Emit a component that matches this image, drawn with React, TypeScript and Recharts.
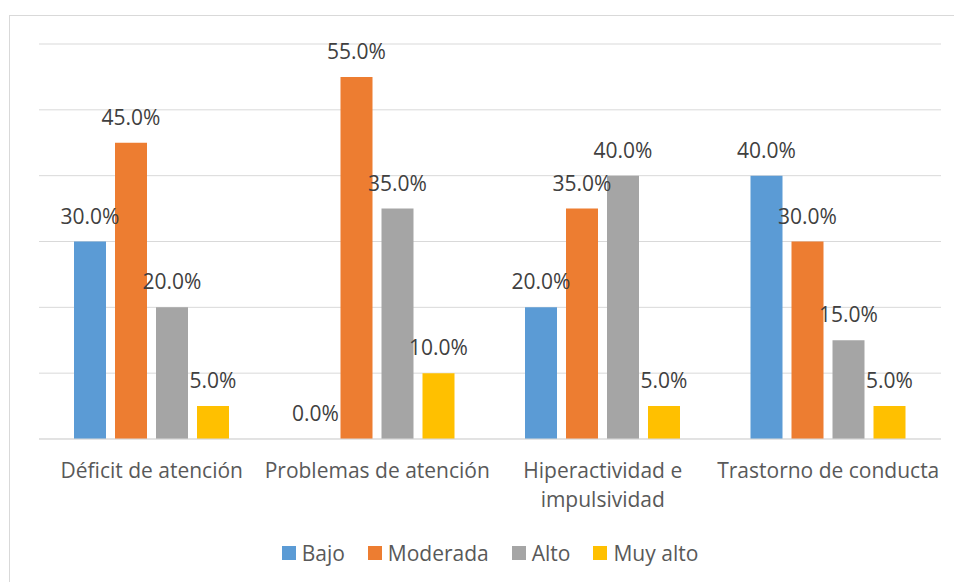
import { BarChart, Bar, XAxis, YAxis, CartesianGrid, Legend, LabelList } from "recharts";

const categories = [
  "Déficit de atención",
  "Problemas de atención",
  "Hiperactividad e\nimpulsividad",
  "Trastorno de conducta",
];
const bajo = [30, 0, 20, 40];
const moderada = [45, 55, 35, 30];
const alto = [20, 35, 40, 15];
const muyAlto = [5, 10, 5, 5];
const yTicks = [0, 10, 20, 30, 40, 50, 60];

const data = categories.map((category, i) => ({
  category,
  bajo: bajo[i],
  moderada: moderada[i],
  alto: alto[i],
  muyAlto: muyAlto[i],
}));

const FONT = "'Open Sans', sans-serif";

const series = [
  { key: "bajo", name: "Bajo", color: "#5B9BD5" },
  { key: "moderada", name: "Moderada", color: "#ED7D31" },
  { key: "alto", name: "Alto", color: "#A5A5A5" },
  { key: "muyAlto", name: "Muy alto", color: "#FFC000" },
];

const CategoryTick = (props: any) => {
  const { x, y, payload } = props;
  const lines = String(payload.value).split("\n");
  return (
    <text x={x} y={y + 39} textAnchor="middle" fill="#595959" fontSize={21} fontFamily={FONT}>
      {lines.map((line, i) => (
        <tspan key={i} x={x} dy={i === 0 ? 0 : 29}>
          {line}
        </tspan>
      ))}
    </text>
  );
};

// keep Excel's series order (recharts sorts the payload by name)
const LegendContent = () => (
  <div
    style={{
      height: 36,
      display: "flex",
      alignItems: "center",
      justifyContent: "center",
      gap: 23,
      fontFamily: FONT,
      fontSize: 21,
      color: "#595959",
    }}
  >
    {series.map((s) => (
      <div key={s.key} style={{ display: "flex", alignItems: "center", gap: 6 }}>
        <span style={{ width: 14, height: 14, background: s.color, display: "inline-block" }} />
        <span>{s.name}</span>
      </div>
    ))}
  </div>
);

export default function App() {
  return (
    <div
      style={{
        position: "absolute",
        left: 0,
        top: 0,
        width: 954,
        height: 582,
        overflow: "hidden",
        background: "#fff",
      }}
    >
      <div
        style={{
          position: "absolute",
          left: 9,
          top: 15,
          width: 1000,
          height: 1000,
          border: "1px solid #d9d9d9",
        }}
      />
      <BarChart
        width={954}
        height={582}
        data={data}
        margin={{ top: 44, right: 13, left: 39, bottom: 11 }}
        barSize={32}
        barGap={9}
      >
        <CartesianGrid vertical={false} stroke="#d9d9d9" />
        <XAxis
          dataKey="category"
          height={96}
          tickLine={false}
          tickSize={0}
          tickMargin={0}
          axisLine={{ stroke: "#d9d9d9" }}
          tick={<CategoryTick />}
          interval={0}
        />
        <YAxis hide domain={[0, 60]} ticks={yTicks} />
        <Legend verticalAlign="bottom" height={36} content={<LegendContent />} />
        {series.map((s) => (
          <Bar
            key={s.key}
            dataKey={s.key}
            name={s.name}
            fill={s.color}
            minPointSize={0.01}
            isAnimationActive={false}
          >
            <LabelList
              dataKey={s.key}
              position="top"
              offset={18}
              fill="#404040"
              fontSize={21}
              fontFamily={FONT}
              formatter={(v: any) => `${Number(v).toFixed(1)}%`}
            />
          </Bar>
        ))}
      </BarChart>
    </div>
  );
}
